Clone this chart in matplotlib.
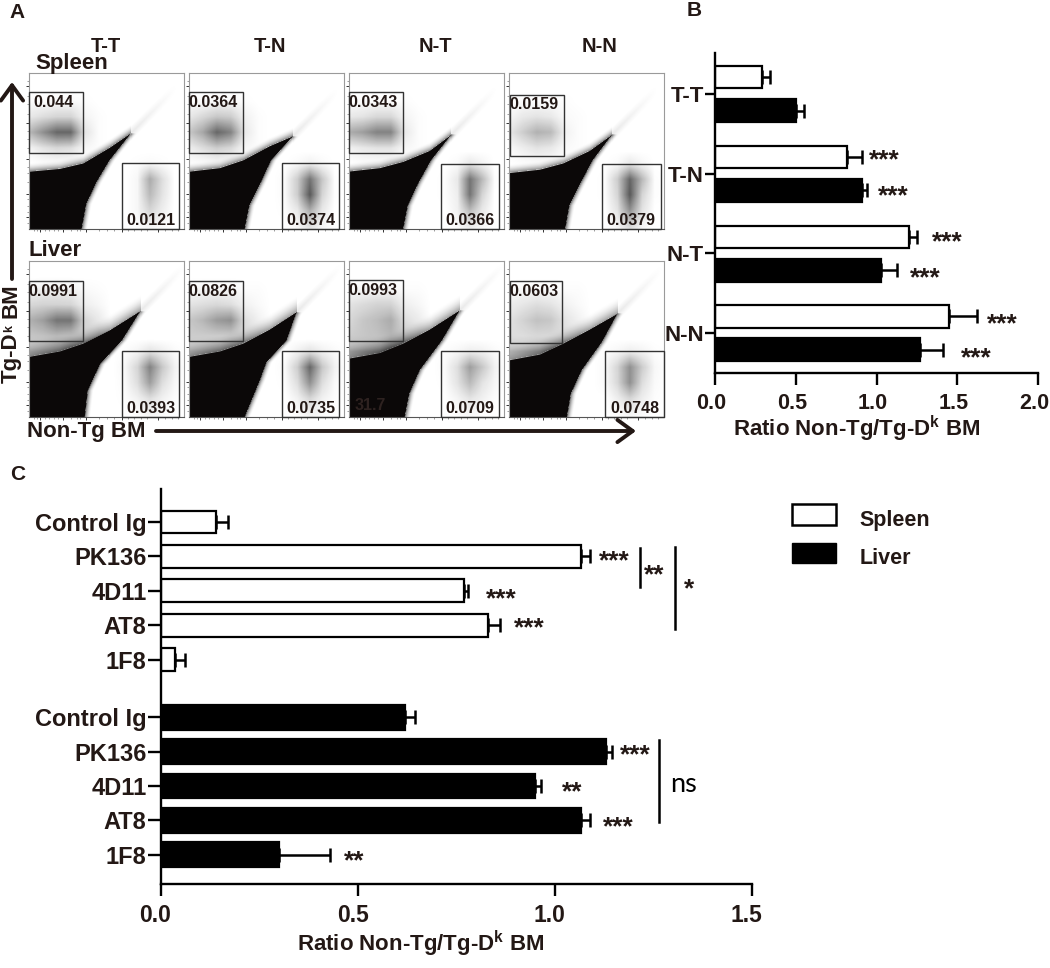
import numpy as np
import matplotlib
matplotlib.use('Agg')
import matplotlib.pyplot as plt
from matplotlib.lines import Line2D
from matplotlib.patches import Rectangle, FancyArrowPatch, Patch
from matplotlib.transforms import ScaledTranslation

plt.rcParams['font.family'] = ['Liberation Sans', 'DejaVu Sans']
plt.rcParams['font.weight'] = 'bold'
plt.rcParams['mathtext.fontset'] = 'custom'
plt.rcParams['mathtext.bf'] = 'Liberation Sans:bold'

W, H = 1050, 968
INK = '#231815'

# Panel A: gate percentages
groups = ['T-T', 'T-N', 'N-T', 'N-N']
spleen_upper_pct = ['0.044', '0.0364', '0.0343', '0.0159']
spleen_lower_pct = ['0.0121', '0.0374', '0.0366', '0.0379']
liver_upper_pct = ['0.0991', '0.0826', '0.0993', '0.0603']
liver_lower_pct = ['0.0393', '0.0735', '0.0709', '0.0748']

# Panel A: outline of the black population, left edge -> tip -> bottom (axis fractions)
spleen_edge_x = [[0, .2, .35, .52, .66, .52, .436, .37, .34],
                 [0, .2, .35, .52, .67, .53, .46, .39, .36],
                 [0, .2, .35, .52, .66, .53, .446, .38, .35],
                 [0, .2, .35, .52, .665, .54, .46, .39, .363]]
spleen_edge_y = [[.367, .385, .42, .52, .615, .44, .30, .16, 0],
                 [.367, .39, .44, .53, .594, .44, .29, .15, 0],
                 [.368, .39, .43, .50, .604, .44, .29, .15, 0],
                 [.358, .38, .42, .50, .604, .44, .29, .15, 0]]
liver_edge_x = [[0, .2, .35, .52, .72, .6, .46, .38, .36],
                [0, .2, .35, .52, .695, .63, .5, .458, .36],
                [0, .2, .35, .52, .715, .6, .457, .39, .36],
                [0, .2, .35, .52, .70, .6, .47, .40, .374]]
liver_edge_y = [[.385, .42, .47, .555, .68, .49, .34, .17, 0],
                [.385, .42, .47, .56, .673, .49, .35, .235, 0],
                [.374, .41, .47, .56, .684, .49, .30, .15, 0],
                [.363, .40, .47, .56, .662, .48, .30, .15, 0]]

# Panel A: gates as x0, x1, y0, y1
spleen_upper_gate = [(0, .35, .486, .88), (0, .35, .486, .88), (0, .35, .486, .876), (.006, .356, .469, .861)]
spleen_lower_gate = [(.6, .97, 0, .42), (.6, .97, 0, .42), (.595, .97, 0, .418), (.6, .978, 0, .418)]
liver_upper_gate = [(0, .35, .487, .87), (0, .35, .487, .87), (0, .35, .487, .876), (.006, .339, .476, .87)]
liver_lower_gate = [(.6, .97, 0, .42), (.6, .97, 0, .42), (.595, .97, 0, .42), (.622, 1, 0, .42)]

# Panel A: share of dark pixels estimated per cell of each population, rows top to bottom
upper_cols = [0, .09, .18, .27, .36, .45]
upper_rows = [.82, .72, .62, .52, .42]
lower_cols = [.62, .70, .78, .86, .94]
lower_rows = [.42, .32, .22, .12, .02]
spleen_upper = [
    [[.01, .01, .02, .02, .01, 0], [.08, .12, .15, .15, .04, .01], [.25, .40, .55, .55, .10, .01], [.04, .10, .14, .12, .03, .01], [0, .01, .01, .01, .01, .01]],
    [[.01, .01, .02, .02, .01, 0], [.08, .14, .20, .18, .05, .01], [.20, .32, .55, .45, .08, .01], [.06, .12, .18, .14, .03, .01], [.01, .01, .02, .01, .01, .01]],
    [[0, .01, .01, .01, .01, 0], [.08, .10, .14, .14, .04, .01], [.30, .35, .45, .45, .08, .01], [.05, .08, .10, .10, .03, .01], [0, .01, .01, .01, 0, .01]],
    [[0, .01, .01, .01, .01, 0], [.03, .08, .10, .08, .02, .01], [.08, .18, .28, .25, .05, .01], [.02, .06, .10, .08, .02, .01], [0, .01, .01, .01, .01, .01]],
]
liver_upper = [
    [[.04, .05, .06, .05, .02, .01], [.14, .16, .16, .15, .06, .03], [.28, .35, .50, .50, .15, .08], [.20, .22, .25, .22, .16, .12], [.20, .22, .24, .3, .3, .3]],
    [[.02, .03, .03, .03, .01, .01], [.10, .12, .14, .12, .05, .02], [.20, .26, .36, .40, .12, .05], [.18, .18, .18, .18, .14, .08], [.18, .20, .22, .25, .25, .25]],
    [[.02, .03, .03, .03, .01, .01], [.10, .13, .16, .16, .06, .03], [.14, .20, .24, .30, .12, .07], [.18, .20, .22, .26, .2, .12], [.25, .28, .30, .35, .35, .3]],
    [[.01, .02, .02, .02, .01, .01], [.06, .09, .12, .10, .05, .02], [.10, .16, .22, .20, .1, .05], [.12, .12, .14, .14, .12, .08], [.2, .22, .25, .28, .28, .25]],
]
spleen_lower = [
    [[0, .01, .02, .01, 0], [0, .03, .30, .12, 0], [0, .03, .25, .10, 0], [0, .03, .15, .06, 0], [0, .01, .04, .02, 0]],
    [[0, .02, .05, .02, 0], [.02, .18, .50, .20, .01], [.02, .18, .60, .15, .01], [.01, .08, .30, .08, 0], [0, .03, .12, .04, 0]],
    [[0, .02, .08, .04, 0], [.01, .08, .50, .25, .01], [.01, .06, .50, .15, 0], [0, .05, .25, .08, 0], [0, .02, .08, .03, 0]],
    [[0, .02, .08, .03, 0], [.01, .18, .55, .25, .01], [.01, .15, .60, .15, .01], [0, .10, .40, .10, 0], [0, .04, .15, .04, 0]],
]
liver_lower = [
    [[.01, .04, .10, .06, .02], [.03, .15, .45, .20, .05], [.02, .12, .35, .12, .03], [.01, .05, .12, .05, .01], [0, .01, .04, .02, 0]],
    [[0, .05, .10, .05, .02], [.02, .18, .55, .20, .05], [.01, .12, .40, .12, .02], [0, .05, .15, .05, .01], [0, .01, .05, .02, 0]],
    [[.01, .03, .06, .05, .02], [.02, .12, .35, .20, .05], [.01, .10, .25, .10, .03], [0, .04, .10, .05, .01], [0, .01, .03, .01, 0]],
    [[.01, .03, .06, .04, .01], [.02, .15, .40, .18, .03], [.02, .14, .40, .12, .02], [0, .06, .15, .06, .01], [0, .01, .04, .02, 0]],
]

# Panel B
b_labels = ['T-T', 'T-N', 'N-T', 'N-N']
b_spleen = [.29, .82, 1.20, 1.45]
b_spleen_err = [.05, .09, .05, .17]
b_liver = [.50, .91, 1.03, 1.27]
b_liver_err = [.05, .03, .10, .14]

# Panel C
c_labels = ['Control Ig', 'PK136', '4D11', 'AT8', '1F8']
c_spleen = [.14, 1.065, .77, .83, .035]
c_spleen_err = [.03, .025, .01, .03, .025]
c_liver = [.62, 1.13, .95, 1.065, .30]
c_liver_err = [.025, .015, .015, .025, .13]


def add_axes_px(x0, y0, x1, y1):
    return fig.add_axes([x0 / W, 1 - y1 / H, (x1 - x0) / W, (y1 - y0) / H])


def ftext(x, y, s, **kw):
    kw.setdefault('ha', 'center')
    kw.setdefault('va', 'center')
    kw.setdefault('color', INK)
    fig.text(x / W, 1 - y / H, s, **kw)


def fline(x0, y0, x1, y1, lw=1.8):
    fig.add_artist(Line2D([x0 / W, x1 / W], [1 - y0 / H, 1 - y1 / H], color='black', lw=lw))


def stars(x, y, s):
    # the asterisk sits high in its line box, so anchor on the baseline
    fig.text(x / W, 1 - (y + 12) / H, s, ha='center', va='baseline', fontsize=19, color=INK)


def cells(grid, cols, rows, X, Y):
    # bilinear lookup of the estimated shares, ringed with zeros so each cloud fades out
    grid = np.pad(np.array(grid, dtype=float)[::-1], 1)
    rows = rows[::-1]
    rows = [rows[0] - .08] + rows + [rows[-1] + .08]
    cols = [cols[0] - .08] + cols + [cols[-1] + .08]
    across = np.array([np.interp(X[0], cols, r) for r in grid])
    return np.array([np.interp(Y[:, 0], rows, across[:, j]) for j in range(X.shape[1])]).T


def flow_panel(box, ex, ey, up, low, up_gate, low_gate, up_txt, low_txt, halo_w, halo_d):
    ax = add_axes_px(*box)
    n = 155
    xs = (np.arange(n) + .5) / n
    X, Y = np.meshgrid(xs, xs)
    dens = cells(up, upper_cols, upper_rows, X, Y) + cells(low, lower_cols, lower_rows, X, Y)
    tipx, tipy = ex[4], ey[4]
    top = np.interp(X, ex[:5], ey[:5])
    d = (Y - top) / halo_w
    dens += np.where((X <= tipx) & (d > 0) & (d < 1), halo_d * (1 - d) ** 2, 0)
    right = np.interp(Y, ey[4:][::-1], ex[4:][::-1])
    d = (X - right) / .04
    dens += np.where((Y <= tipy) & (d > 0) & (d < 1), .5 * (1 - d) ** 2, 0)
    # faint tail past the tip of the population
    d = np.abs(Y - (tipy + (X - tipx))) / .05
    dens += np.where((X > tipx) & (d < 1), .08 * (1 - d) * np.clip(1 - (X - tipx) / .3, 0, 1), 0)
    img = np.zeros((n, n, 4))
    img[..., :3] = .05
    img[..., 3] = np.clip(dens * 1.15, 0, 1)
    ax.imshow(img, origin='lower', extent=(0, 1, 0, 1), aspect='auto', interpolation='bilinear', zorder=1)
    ax.fill([0] + ex + [0], [0] + ey + [0], color='#0b0808', lw=0, zorder=2)
    for g in (up_gate, low_gate):
        ax.add_patch(Rectangle((g[0], g[2]), g[1] - g[0], g[3] - g[2], fill=False,
                               ec='#333333', lw=1.0, zorder=3, clip_on=False))
    ax.text(up_gate[0] + .155, up_gate[3] - .066, up_txt, ha='center', va='center', fontsize=11.5, color=INK, zorder=4)
    ax.text((low_gate[0] + low_gate[1]) / 2, .054, low_txt, ha='center', va='center', fontsize=11.5, color=INK, zorder=4)
    ax.set_xlim(0, 1)
    ax.set_ylim(0, 1)
    ax.set_xticks([.07, .22, .37, .6, .83])
    ax.set_yticks([.076, .227, .447, .68, .914])
    ax.set_xticks([.03, .05, .1, .13, .16, .19, .27, .31, .33, .45, .5, .55, .64, .68, .72, .76, .88, .92, .96], minor=True)
    ax.set_yticks([.04, .11, .15, .19, .3, .36, .4, .52, .58, .63, .74, .8, .85, .95], minor=True)
    ax.tick_params(which='major', length=2.5, width=.7, color='#333333', labelbottom=False, labelleft=False, pad=1)
    ax.tick_params(which='minor', length=1.3, width=.4, color='#555555')
    for s in ax.spines.values():
        s.set_color('#9a9a9a')
        s.set_linewidth(.8)
    ax.spines['bottom'].set_color('#555555')
    return ax


fig = plt.figure(figsize=(W / 100, H / 100), dpi=100, facecolor='white')

# ---- Panel A
col_x = [(29, 184), (189, 344), (349, 504), (509, 664)]
for i, (x0, x1) in enumerate(col_x):
    flow_panel((x0, 73, x1, 229), spleen_edge_x[i], spleen_edge_y[i], spleen_upper[i], spleen_lower[i],
               spleen_upper_gate[i], spleen_lower_gate[i], spleen_upper_pct[i], spleen_lower_pct[i], .06, .45)
    ax_l = flow_panel((x0, 261, x1, 417), liver_edge_x[i], liver_edge_y[i], liver_upper[i], liver_lower[i],
                      liver_upper_gate[i], liver_lower_gate[i], liver_upper_pct[i], liver_lower_pct[i], .11, .35)
    if i == 2:
        ax_l.text(.14, .075, '31.7', ha='center', va='center', fontsize=11.5, color='#2e2220', zorder=4)

for xc, g in zip([106, 270, 435, 600], groups):
    ftext(xc, 46, g, fontsize=14.5)
ftext(35, 63, 'Spleen', fontsize=16, ha='left')
ftext(28, 250, 'Liver', fontsize=16, ha='left')
ftext(17, 12, 'A', fontsize=15)
ftext(694, 11, 'B', fontsize=15)
ftext(18, 474, 'C', fontsize=15)

# rotated label built from pieces so the small k sits inside the cap height
ftext(11, 383, 'Tg-D', fontsize=16, rotation=90, va='bottom')
ftext(9, 332, 'k', fontsize=9, rotation=90, va='bottom')
ftext(11, 318, 'BM', fontsize=16, rotation=90, va='bottom')
ftext(27, 431, 'Non-Tg BM', fontsize=16, ha='left')
for start, end in [((12, 279), (12, 82)), ((156, 431), (636, 431))]:
    fig.add_artist(FancyArrowPatch((start[0] / W, 1 - start[1] / H), (end[0] / W, 1 - end[1] / H),
                                   transform=fig.transFigure, arrowstyle='->,head_length=11,head_width=8',
                                   color=INK, lw=2.8, mutation_scale=1, shrinkA=0, shrinkB=0))


def style_bars(ax, size, ylen, shift):
    for s in ('top', 'right'):
        ax.spines[s].set_visible(False)
    for s in ('left', 'bottom'):
        ax.spines[s].set_linewidth(1.7)
        ax.spines[s].set_color('black')
    ax.tick_params(axis='x', length=8.5, width=1.7, labelsize=size, pad=6, labelcolor=INK)
    ax.tick_params(axis='y', length=ylen, width=1.7, labelsize=size + .5, pad=1, labelcolor=INK)
    # tick numbers sit a little left of their ticks in the original
    off = ScaledTranslation(shift / 100, 0, fig.dpi_scale_trans)
    for t in ax.get_xticklabels():
        t.set_transform(t.get_transform() + off)


def hbars(ax, pos, vals, errs, filled, height):
    ax.barh(pos, vals, height=height, color='black' if filled else 'white', edgecolor='black', lw=1.6,
            xerr=[np.zeros(len(errs)), errs], capsize=4.7,
            error_kw={'elinewidth': 1.8, 'capthick': 1.8, 'ecolor': 'black'}, zorder=2)


# ---- Panel B
ax_b = add_axes_px(715, 53, 1038, 373)
ypos = np.arange(len(b_labels))
hbars(ax_b, ypos - .21, b_spleen, b_spleen_err, False, .28)
hbars(ax_b, ypos + .21, b_liver, b_liver_err, True, .29)
ax_b.set_yticks(ypos, b_labels)
ax_b.set_xlim(0, 2)
ax_b.set_ylim(3.5, -.514)
ax_b.set_xticks([0, .5, 1, 1.5, 2], ['0.0', '0.5', '1.0', '1.5', '2.0'])
style_bars(ax_b, 15.5, 7, -4)
ax_b.set_xlabel('Ratio Non-Tg/Tg-D$^{\\mathbf{k}}$ BM', fontsize=16, color=INK, fontweight='bold')
ax_b.xaxis.set_label_coords(.437, -.129)
for x, y, s in [(884, 155, '***'), (893, 191, '***'), (947, 237, '***'), (925, 273, '***'),
                (1002, 319, '***'), (976, 353, '***')]:
    stars(x, y, s)

# ---- Panel C
ax_c = add_axes_px(161, 489, 752, 884)
y_sp = np.arange(len(c_labels))
y_li = y_sp + 5.67
hbars(ax_c, y_sp, c_spleen, c_spleen_err, False, .66)
hbars(ax_c, y_li, c_liver, c_liver_err, True, .72)
ax_c.set_yticks(np.concatenate([y_sp, y_li]), c_labels + c_labels)
ax_c.set_xlim(0, 1.5)
ax_c.set_ylim(10.52, -.96)
ax_c.set_xticks([0, .5, 1, 1.5], ['0.0', '0.5', '1.0', '1.5'])
style_bars(ax_c, 16.5, 9.4, -5.5)
ax_c.set_xlabel('Ratio Non-Tg/Tg-D$^{\\mathbf{k}}$ BM', fontsize=16, color=INK, fontweight='bold')
ax_c.xaxis.set_label_coords(.44, -.114)
for x, y, s in [(614, 556, '***'), (501, 594, '***'), (529, 623, '***'), (654, 570, '**'), (689, 584, '*'),
                (635, 750, '***'), (572, 787, '**'), (618, 822, '***'), (354, 856, '**')]:
    stars(x, y, s)
fline(640, 548, 640, 587)
fline(675, 547, 675, 629)
fline(659, 740, 659, 822)
ftext(683, 784, 'ns', fontsize=19.5, family='Lato', fontweight='normal', color='black')

# legend
handles = [Patch(fc='white', ec='black', lw=1.8, label='Spleen'), Patch(fc='black', ec='black', label='Liver')]
leg = fig.legend(handles=handles, loc='upper left', bbox_to_anchor=(792 / W, 1 - 504 / H), frameon=False, fontsize=15.5,
                 handlelength=2.05, handleheight=1.1, handletextpad=1.07, labelspacing=.74, borderpad=0, borderaxespad=0,
                 labelcolor=INK)
for t in leg.get_texts():
    t.set_y(-4)

fig.savefig('out.png', dpi=100, facecolor='white')
